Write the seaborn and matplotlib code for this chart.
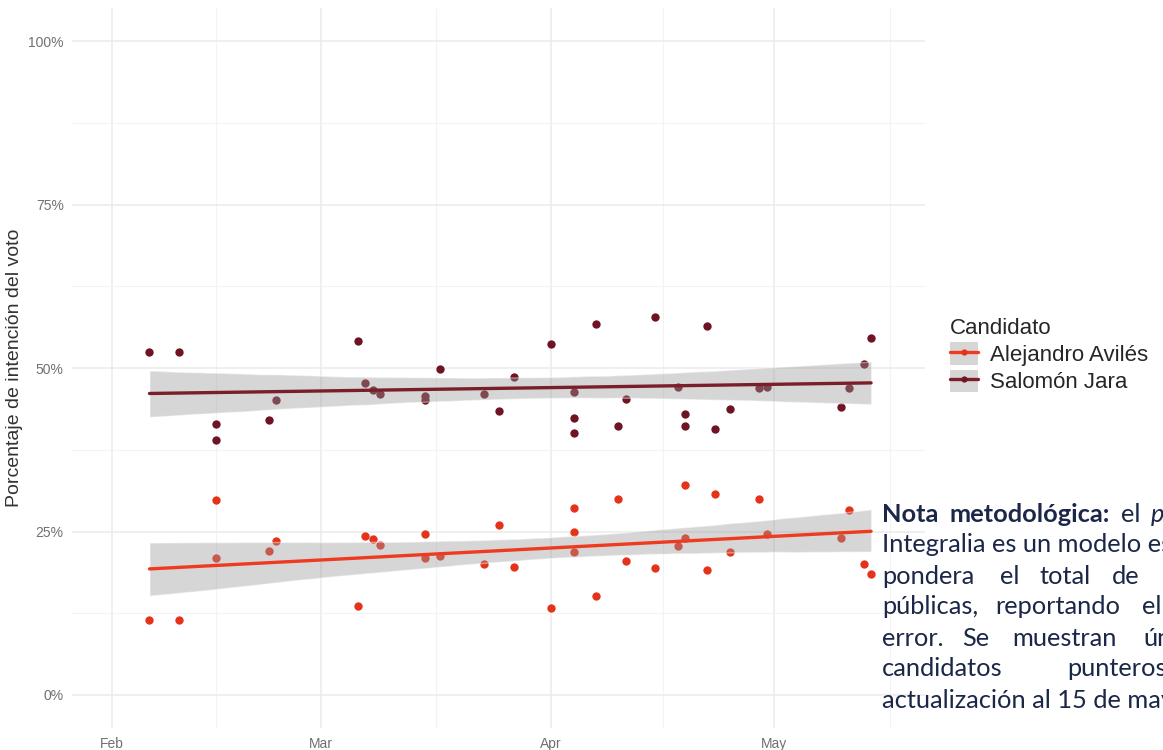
import numpy as np
import pandas as pd
import seaborn as sns
import matplotlib.pyplot as plt
import matplotlib.dates as mdates
from matplotlib.lines import Line2D
from matplotlib.patches import Patch

# Encuestas (fecha de publicación) y porcentaje de intención de voto
fechas = ['2022-02-06', '2022-02-10', '2022-02-15', '2022-02-15', '2022-02-22', '2022-02-23',
          '2022-03-06', '2022-03-07', '2022-03-08', '2022-03-09', '2022-03-15', '2022-03-15',
          '2022-03-17', '2022-03-23', '2022-03-25', '2022-03-27', '2022-04-01', '2022-04-04',
          '2022-04-04', '2022-04-04', '2022-04-07', '2022-04-10', '2022-04-11', '2022-04-15',
          '2022-04-18', '2022-04-19', '2022-04-19', '2022-04-22', '2022-04-23', '2022-04-25',
          '2022-04-29', '2022-04-30', '2022-05-10', '2022-05-11', '2022-05-13', '2022-05-14']
jara = [52.4, 52.4, 41.4, 39.0, 42.0, 45.1, 54.2, 47.7, 46.7, 46.0, 45.7, 45.1,
        49.8, 46.0, 43.4, 48.6, 53.7, 46.4, 42.4, 40.0, 56.7, 41.1, 45.3, 57.8,
        47.1, 43.0, 41.2, 56.4, 40.7, 43.8, 47.0, 47.1, 44.0, 47.0, 50.6, 54.6]
aviles = [11.5, 11.5, 29.8, 21.0, 22.0, 23.6, 13.6, 24.3, 23.9, 22.9, 24.6, 21.0,
          21.3, 20.0, 26.0, 19.6, 13.3, 28.6, 25.0, 21.8, 15.2, 30.0, 20.5, 19.4,
          22.8, 32.1, 24.0, 19.1, 30.8, 21.9, 30.0, 24.6, 24.0, 28.3, 20.0, 18.5]

candidatos = ['Alejandro Avilés', 'Salomón Jara']
colores_punto = {'Alejandro Avilés': '#e5331b', 'Salomón Jara': '#6e1423'}
colores_linea = {'Alejandro Avilés': '#ee3b1f', 'Salomón Jara': '#7a1e2a'}

df = pd.DataFrame({
    'fecha': pd.to_datetime(fechas * 2),
    'valor': aviles + jara,
    'candidato': ['Alejandro Avilés'] * len(aviles) + ['Salomón Jara'] * len(jara),
})
df['x'] = mdates.date2num(df['fecha'])

sns.set_style('white')
plt.rcParams['font.family'] = ['Liberation Sans', 'DejaVu Sans']

W, H = 1163, 750
fig = plt.figure(figsize=(W / 100, H / 100), dpi=100)
ax = fig.add_axes([72 / W, (H - 727.7) / H, 853 / W, 719.4 / H])

for cand in ['Salomón Jara', 'Alejandro Avilés']:
    sub = df[df['candidato'] == cand]
    sns.regplot(data=sub, x='x', y='valor', ax=ax, color=colores_punto[cand],
                scatter_kws=dict(s=36, alpha=1, linewidths=0),
                line_kws=dict(color=colores_linea[cand], lw=2.4),
                n_boot=2000, seed=3)
    # banda de confianza en gris, como geom_smooth
    banda = ax.collections[-1]
    banda.set_facecolor('#999999')
    banda.set_alpha(0.4)

# ejes
ax.set_ylim(-5, 105)
ax.set_yticks([0, 25, 50, 75, 100])
ax.set_yticklabels(['0%', '25%', '50%', '75%', '100%'])
ax.set_yticks([12.5, 37.5, 62.5, 87.5], minor=True)

inicios = mdates.date2num(pd.date_range('2022-01-01', '2022-07-01', freq='MS'))
ax.set_xticks(inicios)
ax.xaxis.set_major_formatter(mdates.DateFormatter('%b'))
ax.set_xticks((inicios[:-1] + inicios[1:]) / 2, minor=True)
ax.set_xlim(mdates.date2num(pd.Timestamp('2022-01-26 14:00')),
            mdates.date2num(pd.Timestamp('2022-05-21 06:00')))

ax.grid(True, which='major', color='#ebebeb', lw=1.1)
ax.grid(True, which='minor', color='#f3f3f3', lw=0.8)
ax.set_axisbelow(True)
for s in ax.spines.values():
    s.set_visible(False)
ax.tick_params(which='both', length=0)
ax.tick_params(axis='y', pad=6, labelsize=10, labelcolor='#707070')
ax.tick_params(axis='x', pad=7, labelsize=10, labelcolor='#707070')

ax.set_xlabel('')
ax.set_ylabel('Porcentaje de intención del voto', fontsize=14, color='#333333')
ax.yaxis.set_label_coords(-0.058, 0.5)

# leyenda
handles = [(Patch(facecolor='#d6d6d6', edgecolor='none'),
            Line2D([], [], color=colores_linea[c], lw=2.4, marker='o', markersize=4.5,
                   markerfacecolor=colores_punto[c], markeredgewidth=0))
           for c in candidatos]
fig.legend(handles, candidatos, title='Candidato', loc='upper left',
           bbox_to_anchor=(950 / W, 1 - 318 / H), frameon=False, fontsize=16,
           title_fontsize=16, handlelength=1.25, handleheight=1.2, labelspacing=0.15,
           handletextpad=0.55, borderpad=0, borderaxespad=0, alignment='left')

# nota metodológica (texto justificado, recortado en el borde derecho)
renderer = fig.canvas.get_renderer()
nota_color = '#1b2748'
fuente = ['Lato', 'DejaVu Sans']
n, b, i = 'normal', 'bold', 'italic'

def texto_nota(x_px, y_px, texto, peso=n, estilo=n):
    return fig.text(x_px / W, 1 - y_px / H, texto, fontsize=18.3, family=fuente,
                    weight=peso, style=estilo, color=nota_color, va='center', ha='left')

# primera línea: encabezado en negritas seguido del texto
x = 882
for texto, peso, estilo in [('Nota', b, n), ('metodológica:', b, n), ('el', n, n), ('poll of polls', n, i)]:
    t = texto_nota(x, 514, texto, peso, estilo)
    x = t.get_window_extent(renderer).x1 + 11

lineas = [
    [('Integralia es un modelo estadístico', 882)],
    [('pondera', 882), ('el', 1000), ('total', 1040), ('de', 1112), ('encuestas', 1163)],
    [('públicas,', 882), ('reportando', 995), ('el', 1142)],
    [('error.', 882), ('Se', 962), ('muestran', 1012), ('únicamente', 1143)],
    [('candidatos', 882), ('punteros.', 1067)],
    [('actualización al 15 de mayo.', 882)],
]
for k, piezas in enumerate(lineas):
    for texto, x_px in piezas:
        texto_nota(x_px, 545 + 31 * k, texto)

fig.savefig('out.png', dpi=100)
